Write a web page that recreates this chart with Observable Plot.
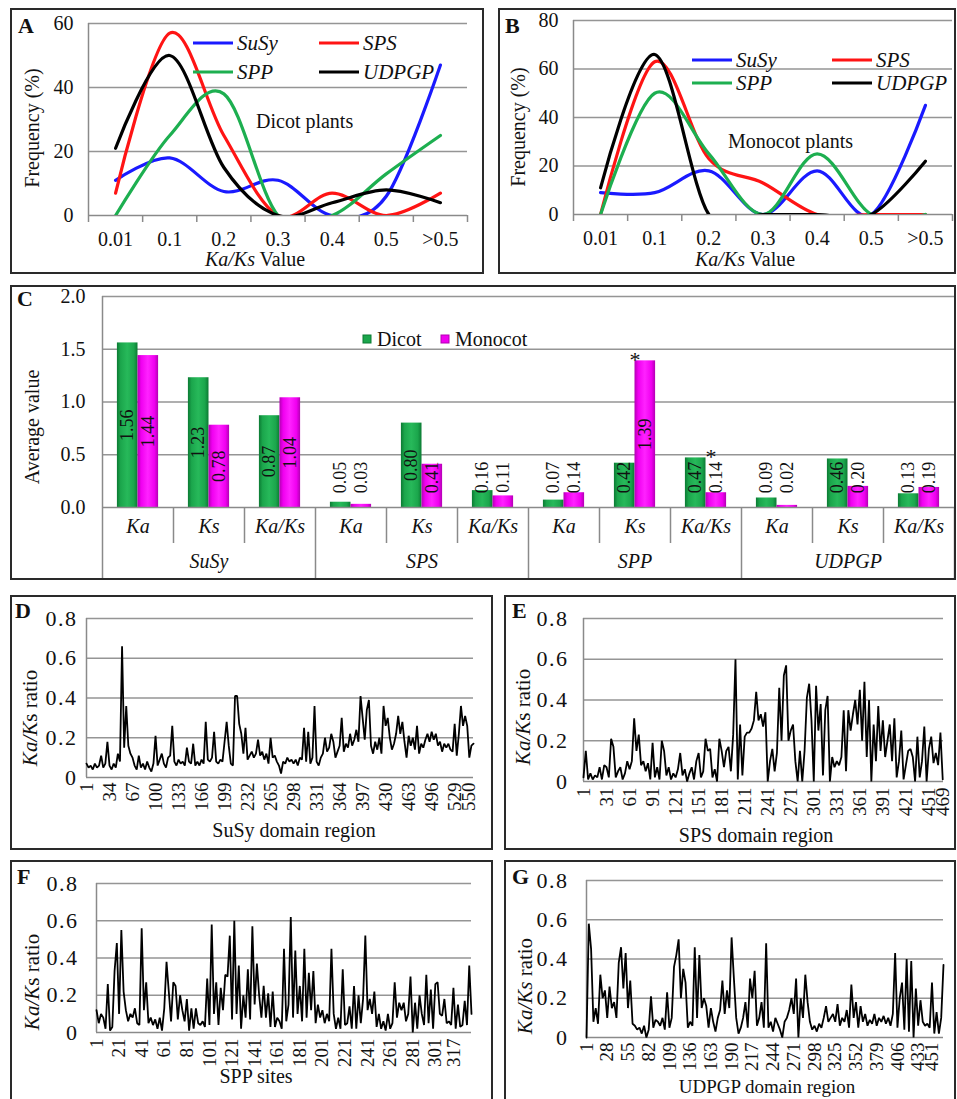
<!DOCTYPE html>
<html><head><meta charset="utf-8">
<script src="https://cdn.jsdelivr.net/npm/d3@7"></script>
<script src="https://cdn.jsdelivr.net/npm/@observablehq/plot@0.6"></script>
<style>
html,body{margin:0;padding:0;background:#fff;}
#root{position:relative;width:957px;height:1099px;overflow:hidden;font-family:"Liberation Serif","Times New Roman",serif;color:#111;background:#fff;}
.frame{position:absolute;border:2px solid #2a2a2a;box-sizing:border-box;pointer-events:none;}
.ratio-y text{letter-spacing:1.5px;}
</style></head><body><div id="root"></div>
<script>
// ---------------- DATA ----------------
// Panels A & B: frequency (%) of Ka/Ks values
const kaksBins = ["0.01", "0.1", "0.2", "0.3", "0.4", "0.5", ">0.5"];
const families = ["SuSy", "SPS", "SPP", "UDPGP"];
const familyColors = ["#1a1aff", "#ff1414", "#1daf50", "#000000"];
const dicotSuSy = [11, 18, 7.5, 11, 0, 6, 47];
const dicotSPS = [7, 57, 25, 0, 7, 0, 7];
const dicotSPP = [0, 25, 38, 0, 0, 13, 25];
const dicotUDPGP = [21, 50, 15, 0, 4, 8, 4];
const monoSuSy = [9, 9, 18, 0, 18, 0, 45];
const monoSPS = [0, 63, 23, 13, 0, 0, 0];
const monoSPP = [0, 50, 25, 0, 25, 0, 0];
const monoUDPGP = [11, 66, 0, 0, 0, 0, 22];
const freqTicksA = [0, 20, 40, 60];
const freqTicksB = [0, 20, 40, 60, 80];

// Panel C: average Ka, Ks, Ka/Ks
const measures = ["Ka", "Ks", "Ka/Ks"];
const dicotAvg = [1.56, 1.23, 0.87, 0.05, 0.80, 0.16, 0.07, 0.42, 0.47, 0.09, 0.46, 0.13];
const monocotAvg = [1.44, 0.78, 1.04, 0.03, 0.41, 0.11, 0.14, 1.39, 0.14, 0.02, 0.20, 0.19];
const avgTicks = [0, 0.5, 1.0, 1.5, 2.0];
const significant = [{cat: 7, v: 1.39, off: 0.5}, {cat: 8, v: 0.47, off: 0.57}];

// Panels D-G: Ka/Ks ratio along the domain (sampled every `step` sites)
const ratioTicks = [0, 0.2, 0.4, 0.6, 0.8];
const susyStep = 3;
const susyRatio = [0.07,0.05,0.06,0.04,0.07,0.05,0.06,0.11,0.05,0.07,0.18,0.06,0.04,0.07,0.05,0.12,0.08,0.66,0.15,0.36,
0.16,0.12,0.10,0.06,0.04,0.11,0.05,0.07,0.04,0.08,0.05,0.03,0.07,0.21,0.06,0.09,0.12,0.07,0.05,0.10,
0.11,0.26,0.08,0.06,0.09,0.07,0.08,0.06,0.15,0.08,0.07,0.17,0.06,0.08,0.06,0.09,0.07,0.28,0.09,0.08,
0.10,0.23,0.08,0.07,0.09,0.08,0.18,0.28,0.16,0.07,0.06,0.41,0.41,0.27,0.22,0.12,0.25,0.09,0.11,0.13,
0.10,0.12,0.19,0.11,0.13,0.09,0.12,0.07,0.20,0.10,0.11,0.08,0.06,0.02,0.08,0.07,0.10,0.08,0.09,0.07,
0.09,0.06,0.10,0.09,0.25,0.08,0.23,0.07,0.10,0.36,0.08,0.06,0.10,0.12,0.20,0.13,0.15,0.22,0.18,0.10,
0.13,0.16,0.30,0.13,0.17,0.15,0.22,0.16,0.19,0.24,0.18,0.41,0.30,0.19,0.34,0.39,0.16,0.12,0.18,0.14,
0.20,0.12,0.36,0.26,0.30,0.20,0.14,0.17,0.22,0.31,0.22,0.28,0.18,0.10,0.21,0.16,0.20,0.14,0.26,0.12,
0.17,0.15,0.19,0.22,0.18,0.23,0.19,0.22,0.16,0.18,0.13,0.17,0.15,0.17,0.14,0.13,0.27,0.11,0.22,0.36,
0.26,0.31,0.26,0.10,0.16,0.17];
const susyTicks = [1,34,67,100,133,166,199,232,265,298,331,364,397,430,463,496,529,550];

const spsStep = 3;
const spsRatio = [0.02,0.15,0.01,0.04,0.01,0.03,0.02,0.07,0.01,0.08,0.07,0.02,0.21,0.17,0.02,0.05,0.07,0.01,0.04,0.10,
0.06,0.10,0.31,0.15,0.23,0.08,0.10,0.05,0.09,0.01,0.19,0.02,0.07,0.01,0.20,0.15,0.03,0.07,0.01,0.04,
0.02,0.06,0.14,0.03,0.06,0.00,0.04,0.07,0.01,0.10,0.14,0.02,0.05,0.21,0.15,0.16,0.02,0.06,0.00,0.21,
0.15,0.07,0.15,0.17,0.05,0.23,0.60,0.01,0.28,0.03,0.22,0.24,0.24,0.26,0.30,0.44,0.30,0.33,0.27,0.34,
0.00,0.10,0.16,0.05,0.14,0.46,0.20,0.52,0.57,0.20,0.25,0.28,0.10,0.00,0.15,0.00,0.15,0.41,0.48,0.30,
0.00,0.47,0.25,0.38,0.03,0.35,0.42,0.00,0.12,0.07,0.10,0.08,0.12,0.35,0.05,0.35,0.25,0.33,0.40,0.28,
0.45,0.20,0.49,0.12,0.40,0.00,0.28,0.10,0.37,0.15,0.30,0.12,0.20,0.28,0.10,0.31,0.02,0.10,0.25,0.01,
0.08,0.15,0.16,0.12,0.00,0.22,0.02,0.10,0.27,0.00,0.16,0.22,0.09,0.14,0.08,0.24,0.01];
const spsTicks = [1,31,61,91,121,151,181,211,241,271,301,331,361,391,421,451,469];

const sppStep = 2;
const sppRatio = [0.12,0.05,0.10,0.08,0.02,0.26,0.01,0.03,0.33,0.48,0.10,0.55,0.22,0.12,0.06,0.10,0.08,0.13,0.05,0.04,
0.56,0.12,0.27,0.05,0.08,0.04,0.07,0.02,0.08,0.01,0.13,0.38,0.22,0.06,0.27,0.25,0.07,0.20,0.12,0.06,
0.18,0.01,0.13,0.02,0.13,0.05,0.04,0.06,0.03,0.29,0.04,0.58,0.10,0.27,0.04,0.24,0.12,0.31,0.30,0.52,
0.07,0.60,0.10,0.36,0.02,0.20,0.08,0.34,0.07,0.57,0.15,0.37,0.20,0.08,0.25,0.08,0.21,0.03,0.22,0.03,
0.08,0.06,0.02,0.45,0.06,0.15,0.62,0.08,0.44,0.10,0.25,0.06,0.45,0.08,0.32,0.12,0.33,0.05,0.15,0.08,
0.12,0.05,0.10,0.06,0.45,0.10,0.02,0.08,0.02,0.34,0.04,0.05,0.14,0.02,0.25,0.02,0.20,0.05,0.18,0.52,
0.12,0.18,0.10,0.22,0.03,0.10,0.02,0.06,0.01,0.10,0.02,0.05,0.27,0.08,0.16,0.12,0.16,0.06,0.10,0.30,
0.00,0.16,0.02,0.20,0.10,0.04,0.31,0.05,0.23,0.02,0.26,0.27,0.10,0.09,0.18,0.05,0.06,0.04,0.24,0.02,
0.15,0.03,0.04,0.17,0.04,0.36,0.10];
const sppTicks = [1,21,41,61,81,101,121,141,161,181,201,221,241,261,281,301,317];

const udpgpStep = 3;
const udpgpRatio = [0.00,0.58,0.45,0.08,0.15,0.07,0.32,0.20,0.24,0.10,0.26,0.15,0.18,0.10,0.38,0.46,0.25,0.43,0.15,0.29,
0.07,0.06,0.04,0.05,0.02,0.06,0.00,0.04,0.21,0.05,0.09,0.08,0.06,0.10,0.04,0.23,0.05,0.10,0.36,0.42,
0.50,0.20,0.35,0.28,0.05,0.08,0.06,0.46,0.10,0.42,0.15,0.20,0.16,0.05,0.15,0.08,0.03,0.10,0.14,0.29,
0.12,0.24,0.15,0.51,0.30,0.10,0.02,0.05,0.10,0.18,0.05,0.30,0.20,0.34,0.06,0.10,0.18,0.05,0.48,0.05,
0.08,0.03,0.10,0.07,0.04,0.00,0.08,0.10,0.14,0.20,0.12,0.30,0.00,0.20,0.10,0.32,0.18,0.08,0.04,0.06,
0.03,0.07,0.05,0.10,0.16,0.08,0.10,0.12,0.08,0.17,0.06,0.10,0.08,0.14,0.05,0.27,0.10,0.18,0.05,0.16,
0.08,0.12,0.06,0.09,0.07,0.12,0.06,0.10,0.08,0.11,0.07,0.10,0.06,0.12,0.43,0.05,0.20,0.28,0.04,0.40,
0.03,0.39,0.00,0.25,0.06,0.19,0.08,0.06,0.07,0.05,0.28,0.02,0.13,0.02,0.10,0.37];
const udpgpTicks = [1,28,55,82,109,136,163,190,217,244,271,298,325,352,379,406,433,451];

// ---------------- HELPERS ----------------
const FONT = '"Liberation Serif","Times New Roman",serif';
const GRID = "#959595", AXIS = "#8a8a8a";
const root = document.getElementById("root");

function place(el, left, top) {
  el.style.position = "absolute";
  el.style.left = left + "px";
  el.style.top = top + "px";
  el.style.maxWidth = "none";
  root.appendChild(el);
}
function frame(x1, y1, x2, y2) {
  const d = document.createElement("div");
  d.className = "frame";
  d.style.left = x1 + "px"; d.style.top = y1 + "px";
  d.style.width = (x2 - x1) + "px"; d.style.height = (y2 - y1) + "px";
  return d;
}
const baseStyle = {fontFamily: FONT, fontSize: "20px", color: "#111", background: "transparent", overflow: "visible"};

function freqPanel(series, ticks, box) {
  const data = [];
  series.forEach((vals, k) => vals.forEach((v, i) => data.push({fam: families[k], i, v})));
  return Plot.plot({
    width: box.w, height: box.h,
    marginLeft: box.ml, marginRight: box.mr, marginTop: box.mt, marginBottom: box.mb,
    style: baseStyle,
    x: {domain: [-0.5, kaksBins.length - 0.5]},
    y: {domain: [0, ticks[ticks.length - 1]]},
    color: {domain: families, range: familyColors},
    marks: [
      Plot.gridY(ticks.filter(d => d > 0), {stroke: GRID, strokeOpacity: 1, strokeWidth: 1.5}),
      Plot.ruleX([-0.5], {stroke: AXIS, strokeWidth: 1.5}),
      Plot.ruleY([0], {stroke: AXIS, strokeWidth: 1.5}),
      Plot.axisY({ticks, tickSize: 0, tickPadding: 15, label: null, fontSize: 20}),
      Plot.axisX({ticks: d3.range(-0.5, kaksBins.length, 1), tickSize: 7, tickFormat: () => "", stroke: AXIS, strokeWidth: 1.5, label: null}),
      Plot.axisX({ticks: d3.range(0, kaksBins.length), tickSize: 0, tickPadding: 16, tickFormat: i => kaksBins[i], label: null, fontSize: 20}),
      Plot.line(data, {x: "i", y: "v", z: "fam", stroke: "fam", strokeWidth: 3.2, curve: "cardinal", clip: true})
    ]
  });
}

function sitePanel(values, step, last, ticks, box) {
  const data = values.map((v, i) => ({site: 1 + step * i, v}));
  return Plot.plot({
    width: box.w, height: box.h,
    marginLeft: box.ml, marginRight: box.mr, marginTop: box.mt, marginBottom: box.mb,
    style: baseStyle,
    x: {domain: [1, last]},
    y: {domain: [0, 0.8]},
    marks: [
      Plot.gridY(ratioTicks.filter(d => d > 0), {stroke: GRID, strokeOpacity: 1, strokeWidth: 1.5}),
      Plot.ruleX([1], {stroke: AXIS, strokeWidth: 1.5, y1: 0, y2: 0.8}),
      Plot.ruleY([0], {stroke: AXIS, strokeWidth: 1.5}),
      Plot.axisY({ticks: ratioTicks, tickFormat: d => d === 0 ? "0" : d.toFixed(1), tickSize: 0, tickPadding: box.yp, label: null, fontSize: 22, className: "ratio-y"}),
      Plot.axisX({ticks, tickSize: 0, tickPadding: box.xp, tickRotate: -90, label: null, fontSize: 19}),
      Plot.line(data, {x: "site", y: "v", stroke: "#000", strokeWidth: 1.8, strokeLinejoin: "miter"})
    ]
  });
}

// ---------------- PANELS A, B ----------------
place(freqPanel([dicotSuSy, dicotSPS, dicotSPP, dicotUDPGP], freqTicksA,
  {w: 474, h: 266, ml: 78, mr: 17, mt: 15, mb: 59}), 10, 8);
place(freqPanel([monoSuSy, monoSPS, monoSPP, monoUDPGP], freqTicksB,
  {w: 458, h: 266, ml: 75, mr: 4, mt: 12, mb: 60}), 498, 8);

// ---------------- PANEL C ----------------
const bars = dicotAvg.map((d, i) => ({i, dicot: d, monocot: monocotAvg[i]}));
const gradDefs = () => {
  const defs = document.createElementNS("http://www.w3.org/2000/svg", "defs");
  defs.innerHTML =
    '<linearGradient id="gDicot" x1="0" x2="1" y1="0" y2="0">' +
    '<stop offset="0" stop-color="#0b7a33"/><stop offset="0.18" stop-color="#1ba64c"/>' +
    '<stop offset="0.5" stop-color="#27b95a"/><stop offset="0.82" stop-color="#1ba64c"/>' +
    '<stop offset="1" stop-color="#0b7a33"/></linearGradient>' +
    '<linearGradient id="gMono" x1="0" x2="1" y1="0" y2="0">' +
    '<stop offset="0" stop-color="#b300b3"/><stop offset="0.18" stop-color="#f000f0"/>' +
    '<stop offset="0.5" stop-color="#ff22ff"/><stop offset="0.82" stop-color="#f000f0"/>' +
    '<stop offset="1" stop-color="#b300b3"/></linearGradient>';
  return defs;
};
const barC = Plot.plot({
  width: 945, height: 295, marginLeft: 92, marginRight: 1, marginTop: 11, marginBottom: 73,
  style: baseStyle,
  x: {domain: [0, 12]},
  y: {domain: [0, 2]},
  marks: [
    gradDefs,
    Plot.gridY(avgTicks.filter(d => d > 0), {stroke: GRID, strokeOpacity: 1, strokeWidth: 1.5}),
    Plot.rectY(bars, {x1: d => d.i + 0.21, x2: d => d.i + 0.5, y1: 0, y2: "dicot", fill: "url(#gDicot)"}),
    Plot.rectY(bars, {x1: d => d.i + 0.5, x2: d => d.i + 0.79, y1: 0, y2: "monocot", fill: "url(#gMono)"}),
    Plot.ruleX([0], {stroke: AXIS, strokeWidth: 1.5}),
    Plot.ruleY([0], {stroke: AXIS, strokeWidth: 1.5}),
    Plot.axisX({ticks: [1, 2, 4, 5, 7, 8, 10, 11], tickSize: 36, tickFormat: () => "", stroke: AXIS, strokeWidth: 1.5, label: null}),
    Plot.axisX({ticks: [0, 3, 6, 9, 12], tickSize: 73, tickFormat: () => "", stroke: AXIS, strokeWidth: 1.5, label: null}),
    Plot.axisY({ticks: avgTicks, tickFormat: d3.format(".1f"), tickSize: 0, tickPadding: 17, label: null, fontSize: 20}),
    Plot.text(bars, {x: d => d.i + 0.5, text: d => measures[d.i % 3], frameAnchor: "bottom", dy: 25, fontStyle: "italic", fontSize: 20, fill: "#111"}),
    Plot.text(families, {x: (d, k) => 3 * k + 1.5, text: d => d, frameAnchor: "bottom", dy: 60, fontStyle: "italic", fontSize: 20, fill: "#111"}),
    Plot.text(bars, {x: d => d.i + 0.355, y: d => Math.max(d.dicot / 2, 0.285), text: d => d.dicot.toFixed(2), rotate: -90, fontSize: 18, fill: "#111"}),
    Plot.text(bars, {x: d => d.i + 0.645, y: d => Math.max(d.monocot / 2, 0.285), text: d => d.monocot.toFixed(2), rotate: -90, fontSize: 18, fill: "#111"}),
    Plot.text(significant, {x: d => d.cat + d.off, y: "v", text: () => "*", lineAnchor: "bottom", dy: 6, fontSize: 22, fill: "#111"})
  ]
});
place(barC, 10, 285);

// ---------------- PANELS D-G ----------------
place(sitePanel(susyRatio, susyStep, 556, susyTicks, {w: 483, h: 255, ml: 76, mr: 20, mt: 23, mb: 73, yp: 9, xp: 5}), 10, 595);
place(sitePanel(spsRatio, spsStep, 470, spsTicks, {w: 451, h: 255, ml: 79, mr: 12, mt: 23, mb: 69, yp: 15, xp: 6}), 504, 595);
place(sitePanel(sppRatio, sppStep, 333, sppTicks, {w: 483, h: 240, ml: 86, mr: 22, mt: 23, mb: 68, yp: 18, xp: 6}), 10, 860);
place(sitePanel(udpgpRatio, udpgpStep, 466, udpgpTicks, {w: 451, h: 240, ml: 82, mr: 12, mt: 20, mb: 63, yp: 18, xp: 5}), 504, 860);

// ---------------- FRAMES ----------------
[[10, 8, 484, 274], [498, 8, 956, 274], [10, 285, 956, 580], [10, 595, 493, 850],
 [504, 595, 956, 850], [10, 860, 493, 1104], [504, 860, 956, 1104]]
  .forEach(b => root.appendChild(frame(...b)));

// ---------------- TEXT OVERLAY ----------------
const ov = d3.select(root).append("svg")
  .attr("width", 957).attr("height", 1099)
  .style("position", "absolute").style("left", "0px").style("top", "0px")
  .style("font-family", FONT).style("pointer-events", "none");

function label(x, y, parts, o = {}) {
  const t = ov.append("text")
    .attr("font-size", o.size || 20)
    .attr("text-anchor", o.anchor || "start")
    .attr("font-weight", o.weight || "normal")
    .attr("fill", "#111");
  if (o.rotate) t.attr("transform", `translate(${x},${y}) rotate(${o.rotate})`).attr("dy", "0.35em");
  else t.attr("x", x).attr("y", y);
  const list = Array.isArray(parts) ? parts : [[parts, !!o.italic]];
  for (const [s, it] of list) t.append("tspan").attr("font-style", it ? "italic" : "normal").text(s);
}

// panel letters
[["A", 18, 33], ["B", 505, 33], ["C", 17, 306], ["D", 15, 618], ["E", 512, 618], ["F", 17, 884], ["G", 512, 884]]
  .forEach(([s, x, y]) => label(x, y, s, {size: 22, weight: "bold"}));

// A & B legends and titles
function legend(x0, x1, y0, dy, textGap) {
  families.forEach((f, k) => {
    const col = k % 2, row = Math.floor(k / 2);
    const lx = col === 0 ? x0 : x1, ly = y0 + row * dy;
    ov.append("line").attr("x1", lx).attr("x2", lx + 40).attr("y1", ly).attr("y2", ly)
      .attr("stroke", familyColors[k]).attr("stroke-width", 3.2);
    label(lx + 40 + textGap, ly + 7, f, {size: 21, italic: true});
  });
}
legend(193, 319, 43, 29, 4);
legend(692, 832, 60, 23, 4);
label(256, 128, "Dicot plants");
label(728, 148, "Monocot plants");
label(32, 128, "Frequency (%)", {rotate: -90, anchor: "middle"});
label(518, 127, "Frequency (%)", {rotate: -90, anchor: "middle"});
label(255, 266, [["Ka/Ks", true], [" Value", false]], {anchor: "middle"});
label(745, 266, [["Ka/Ks", true], [" Value", false]], {anchor: "middle"});

// C legend and title
ov.append("rect").attr("x", 363).attr("y", 335).attr("width", 8).attr("height", 8).attr("fill", "#1ba64c").attr("stroke", "#0b7a33");
label(377, 346, "Dicot");
ov.append("rect").attr("x", 441).attr("y", 335).attr("width", 8).attr("height", 8).attr("fill", "#f000f0").attr("stroke", "#b300b3");
label(455, 346, "Monocot");
label(32, 427, "Average value", {rotate: -90, anchor: "middle"});

// D-G titles
label(30, 718, [["Ka/K", true], ["s ratio", false]], {rotate: -90, anchor: "middle", size: 21});
label(523, 717, [["Ka/K", true], ["s ratio", false]], {rotate: -90, anchor: "middle", size: 21});
label(32, 982, [["Ka/K", true], ["s ratio", false]], {rotate: -90, anchor: "middle", size: 21});
label(525, 986, [["Ka/Ks", true], [" ratio", false]], {rotate: -90, anchor: "middle", size: 21});
label(294, 837, "SuSy domain region", {anchor: "middle"});
label(756, 842, "SPS domain region", {anchor: "middle"});
label(256, 1083, "SPP sites", {anchor: "middle"});
label(767, 1093, "UDPGP domain region", {anchor: "middle", size: 19});
</script></body></html>
